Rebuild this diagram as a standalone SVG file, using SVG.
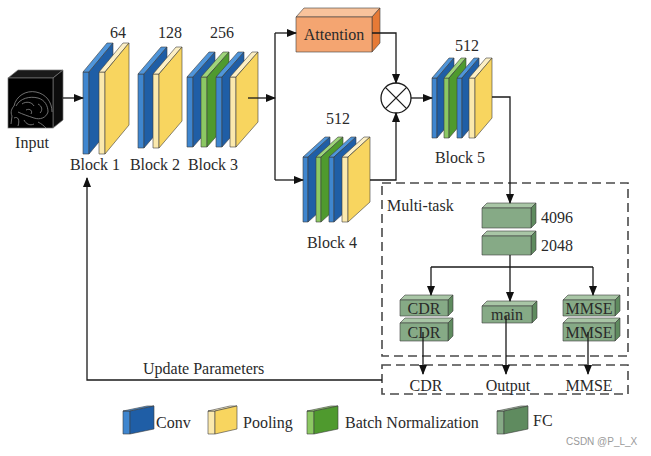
<svg xmlns="http://www.w3.org/2000/svg" width="651" height="456" viewBox="0 0 651 456">
<defs>
<style>
text{font-family:"Liberation Serif","Times New Roman",serif;font-size:16px;fill:#2a2a2a}
.c{text-anchor:middle}
.s{stroke:#3c3c3c;stroke-width:0.6;stroke-linejoin:round}
.bf{fill:#3f86cf}.bt{fill:#4f95da}.bs{fill:#1f5ea6}
.yf{fill:#fbe9ad}.yt{fill:#fcefc4}.ys{fill:#f8d55f}
.gf{fill:#8cc863}.gt{fill:#9fd47a}.gs{fill:#4f9a2e}
.ff{fill:#86aa86}.ft{fill:#a9c6a6}.fs{fill:#5f8b5f}
.ln{fill:none;stroke:#1a1a1a;stroke-width:1.3}
.dash{fill:none;stroke:#4a4a4a;stroke-width:1.6;stroke-dasharray:9 5}
.mri{fill:none;stroke:#8c8c8c;stroke-width:0.8}
</style>
<marker id="ah" markerWidth="10" markerHeight="8" refX="9" refY="4" orient="auto" markerUnits="userSpaceOnUse">
<path d="M0,0 L10,4 L0,8 Z" fill="#111"/>
</marker>
</defs>
<rect width="651" height="456" fill="#ffffff"/>

<g id="input">
<polygon points="8,78 53,78 63,70 18,70" fill="#1a1a1a" stroke="#777" stroke-width="0.7"/>
<polygon points="53,78 63,70 63,120 53,128" fill="#0c0c0c" stroke="#777" stroke-width="0.7"/>
<rect x="8" y="78" width="45" height="50" fill="#000" stroke="#777" stroke-width="0.7"/>
<path class="mri" d="M11,124 L12,116 C10,112 12,108 14,106 C16,96 26,90 36,92 C46,94 52,102 52,112"/>
<path class="mri" d="M16,106 C20,98 30,96 38,98 C45,100 48,106 48,112 C46,118 40,120 34,118 C28,116 22,114 18,112"/>
<path class="mri" d="M22,104 C26,101 32,102 34,106 M38,104 C42,106 43,110 40,113 M26,110 C30,108 33,111 31,114"/>
<path class="mri" d="M14,118 C18,116 20,120 18,126 M24,120 C26,124 30,126 34,124 M38,122 C42,124 44,126 46,128"/>
<text class="c" x="32" y="148">Input</text>
</g>

<g id="block1">
<rect class="s bf" x="83" y="72" width="6" height="82"/>
<polygon class="s bt" points="83,72 89,72 113,43 107,43"/>
<polygon class="s bs" points="89,72 113,43 113,125 89,154"/>
<rect class="s yf" x="99" y="72" width="6" height="82"/>
<polygon class="s yt" points="99,72 105,72 129,43 123,43"/>
<polygon class="s ys" points="105,72 129,43 129,125 105,154"/>
<text class="c" x="118" y="38">64</text>
<text class="c" x="95" y="170">Block 1</text>
</g>

<g id="block2">
<rect class="s bf" x="138" y="74" width="6" height="74"/>
<polygon class="s bt" points="138,74 144,74 167,47 161,47"/>
<polygon class="s bs" points="144,74 167,47 167,121 144,148"/>
<rect class="s yf" x="153" y="74" width="6" height="74"/>
<polygon class="s yt" points="153,74 159,74 182,47 176,47"/>
<polygon class="s ys" points="159,74 182,47 182,121 159,148"/>
<text class="c" x="170" y="38">128</text>
<text class="c" x="155" y="170">Block 2</text>
</g>

<g id="block3">
<rect class="s bf" x="187" y="77" width="6" height="70"/>
<polygon class="s bt" points="187,77 193,77 215,52 209,52"/>
<polygon class="s bs" points="193,77 215,52 215,122 193,147"/>
<rect class="s gf" x="201" y="77" width="6" height="70"/>
<polygon class="s gt" points="201,77 207,77 229,52 223,52"/>
<polygon class="s gs" points="207,77 229,52 229,122 207,147"/>
<rect class="s bf" x="216" y="77" width="6" height="70"/>
<polygon class="s bt" points="216,77 222,77 244,52 238,52"/>
<polygon class="s bs" points="222,77 244,52 244,122 222,147"/>
<rect class="s yf" x="230" y="77" width="6" height="70"/>
<polygon class="s yt" points="230,77 236,77 258,52 252,52"/>
<polygon class="s ys" points="236,77 258,52 258,122 236,147"/>
<text class="c" x="222" y="38">256</text>
<text class="c" x="213" y="170">Block 3</text>
</g>

<g id="attention">
<polygon class="s" points="296,17 372,17 380,8 304,8" fill="#f8c39c"/>
<polygon class="s" points="372,17 380,8 380,43 372,52" fill="#e67a36"/>
<rect class="s" x="296" y="17" width="76" height="35" fill="#f4a571"/>
<text class="c" x="334" y="40">Attention</text>
</g>

<g id="multiply">
<circle cx="396" cy="98" r="15" fill="#fff" stroke="#1a1a1a" stroke-width="1.3"/>
<path d="M385.4,87.4 L406.6,108.6 M406.6,87.4 L385.4,108.6" stroke="#1a1a1a" stroke-width="1.3"/>
</g>

<g id="block4">
<rect class="s bf" x="303" y="157" width="5" height="65"/>
<polygon class="s bt" points="303,157 308,157 330,137 325,137"/>
<polygon class="s bs" points="308,157 330,137 330,202 308,222"/>
<rect class="s gf" x="316" y="157" width="5" height="65"/>
<polygon class="s gt" points="316,157 321,157 343,137 338,137"/>
<polygon class="s gs" points="321,157 343,137 343,202 321,222"/>
<rect class="s bf" x="329" y="157" width="5" height="65"/>
<polygon class="s bt" points="329,157 334,157 356,137 351,137"/>
<polygon class="s bs" points="334,157 356,137 356,202 334,222"/>
<rect class="s yf" x="342" y="157" width="6" height="65"/>
<polygon class="s yt" points="342,157 348,157 370,137 364,137"/>
<polygon class="s ys" points="348,157 370,137 370,202 348,222"/>
<text class="c" x="338" y="124">512</text>
<text class="c" x="332" y="248">Block 4</text>
</g>

<g id="block5">
<rect class="s bf" x="432" y="78" width="5" height="60"/>
<polygon class="s bt" points="432,78 437,78 454,58 449,58"/>
<polygon class="s bs" points="437,78 454,58 454,118 437,138"/>
<rect class="s gf" x="444" y="78" width="5" height="60"/>
<polygon class="s gt" points="444,78 449,78 466,58 461,58"/>
<polygon class="s gs" points="449,78 466,58 466,118 449,138"/>
<rect class="s bf" x="457" y="78" width="5" height="60"/>
<polygon class="s bt" points="457,78 462,78 479,58 474,58"/>
<polygon class="s bs" points="462,78 479,58 479,118 462,138"/>
<rect class="s yf" x="469" y="78" width="6" height="60"/>
<polygon class="s yt" points="469,78 475,78 492,58 486,58"/>
<polygon class="s ys" points="475,78 492,58 492,118 475,138"/>
<text class="c" x="467" y="51">512</text>
<text class="c" x="460" y="163">Block 5</text>
</g>

<g id="multitask">
<rect class="dash" x="382" y="183" width="246" height="173"/>
<text x="387" y="211">Multi-task</text>
</g>

<g id="fc4096">
<polygon class="s ft" points="482,208 531,208 536,203 487,203"/>
<polygon class="s fs" points="531,208 536,203 536,223 531,228"/>
<rect class="s ff" x="482" y="208" width="49" height="20"/>
<text x="541" y="223">4096</text>
</g>
<g id="fc2048">
<polygon class="s ft" points="482,236 531,236 536,231 487,231"/>
<polygon class="s fs" points="531,236 536,231 536,250 531,255"/>
<rect class="s ff" x="482" y="236" width="49" height="19"/>
<text x="541" y="251">2048</text>
</g>

<g id="cdr-fc1">
<polygon class="s ft" points="400,300 448,300 453,295 405,295"/>
<polygon class="s fs" points="448,300 453,295 453,311 448,316"/>
<rect class="s ff" x="400" y="300" width="48" height="16"/>
<text class="c" x="424" y="314">CDR</text>
</g>
<g id="cdr-fc2">
<polygon class="s ft" points="400,323 448,323 453,318 405,318"/>
<polygon class="s fs" points="448,323 453,318 453,336 448,341"/>
<rect class="s ff" x="400" y="323" width="48" height="18"/>
<text class="c" x="424" y="338">CDR</text>
</g>
<g id="main-fc">
<polygon class="s ft" points="482,306 532,306 537,301 487,301"/>
<polygon class="s fs" points="532,306 537,301 537,318 532,323"/>
<rect class="s ff" x="482" y="306" width="50" height="17"/>
<text class="c" x="507" y="320">main</text>
</g>
<g id="mmse-fc1">
<polygon class="s ft" points="563,300 615,300 620,295 568,295"/>
<polygon class="s fs" points="615,300 620,295 620,311 615,316"/>
<rect class="s ff" x="563" y="300" width="52" height="16"/>
<text class="c" x="589" y="314">MMSE</text>
</g>
<g id="mmse-fc2">
<polygon class="s ft" points="563,323 615,323 620,318 568,318"/>
<polygon class="s fs" points="615,323 620,318 620,336 615,341"/>
<rect class="s ff" x="563" y="323" width="52" height="18"/>
<text class="c" x="589" y="338">MMSE</text>
</g>

<g id="outputs">
<rect class="dash" x="382" y="365" width="246" height="29"/>
<text class="c" x="426" y="391">CDR</text>
<text class="c" x="508" y="391">Output</text>
<text class="c" x="589" y="391">MMSE</text>
</g>

<g id="connectors">
<line class="ln" x1="63" y1="98" x2="83" y2="98" marker-end="url(#ah)"/>
<line class="ln" x1="248" y1="98" x2="275" y2="98" marker-end="url(#ah)"/>
<line class="ln" x1="275" y1="33" x2="275" y2="180"/>
<line class="ln" x1="275" y1="33" x2="296" y2="33" marker-end="url(#ah)"/>
<line class="ln" x1="275" y1="180" x2="303" y2="180" marker-end="url(#ah)"/>
<polyline class="ln" points="372,33 396,33 396,83" marker-end="url(#ah)"/>
<polyline class="ln" points="370,180 396,180 396,113" marker-end="url(#ah)"/>
<line class="ln" x1="411" y1="98" x2="432" y2="98" marker-end="url(#ah)"/>
<polyline class="ln" points="492,97 510,97 510,203" marker-end="url(#ah)"/>
<line class="ln" x1="510" y1="255" x2="510" y2="267"/>
<line class="ln" x1="431" y1="267" x2="593" y2="267"/>
<line class="ln" x1="431" y1="267" x2="431" y2="295" marker-end="url(#ah)"/>
<line class="ln" x1="510" y1="267" x2="510" y2="301" marker-end="url(#ah)"/>
<line class="ln" x1="593" y1="267" x2="593" y2="295" marker-end="url(#ah)"/>
<line class="ln" x1="423" y1="332" x2="423" y2="374" marker-end="url(#ah)"/>
<line class="ln" x1="506" y1="316" x2="506" y2="374" marker-end="url(#ah)"/>
<line class="ln" x1="588" y1="332" x2="588" y2="374" marker-end="url(#ah)"/>
<polyline class="ln" points="382,380 87,380 87,178" marker-end="url(#ah)"/>
<text x="143" y="374">Update Parameters</text>
</g>

<g id="legend">
<rect class="s bf" x="123" y="411" width="7" height="23"/>
<polygon class="s bt" points="123,411 130,411 154,406 147,406"/>
<polygon class="s bs" points="130,411 154,406 154,429 130,434"/>
<text x="156" y="428">Conv</text>
<rect class="s yf" x="208" y="411" width="7" height="23"/>
<polygon class="s yt" points="208,411 215,411 237,406 230,406"/>
<polygon class="s ys" points="215,411 237,406 237,429 215,434"/>
<text x="243" y="428">Pooling</text>
<rect class="s gf" x="307" y="411" width="7" height="23"/>
<polygon class="s gt" points="307,411 314,411 338,406 331,406"/>
<polygon class="s gs" points="314,411 338,406 338,429 314,434"/>
<text x="345" y="428">Batch Normalization</text>
<rect class="s ff" x="497" y="411" width="7" height="23"/>
<polygon class="s ft" points="497,411 504,411 528,406 521,406"/>
<polygon class="s fs" points="504,411 528,406 528,429 504,434"/>
<text x="533" y="426">FC</text>
</g>

<text x="566" y="445" style="font-family:'Liberation Sans',Arial,sans-serif;font-size:10px;fill:#9a9a9a">CSDN @P_L_X</text>
</svg>
